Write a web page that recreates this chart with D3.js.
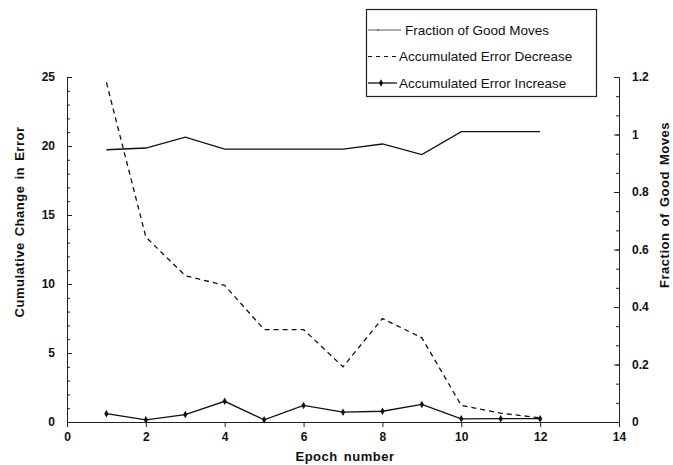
<!DOCTYPE html>
<html>
<head>
<meta charset="utf-8">
<script src="https://cdn.jsdelivr.net/npm/d3@7"></script>
<style>
  body { margin: 0; background: #fff; }
  svg { display: block; font-family: "Liberation Sans", Arial, sans-serif; }
  .axis path, .axis line { stroke: #222; }
</style>
</head>
<body>
<svg id="chart" width="673" height="465"></svg>
<script>
const epochs = [1, 2, 3, 4, 5, 6, 7, 8, 9, 10, 11, 12];
const goodMoves = [0.947, 0.953, 0.991, 0.949, 0.949, 0.949, 0.949, 0.967, 0.93, 1.01, 1.01, 1.01];
const errDecrease = [24.6, 13.4, 10.6, 9.9, 6.7, 6.7, 4.0, 7.5, 6.1, 1.2, 0.64, 0.3];
const errIncrease = [0.6, 0.16, 0.54, 1.5, 0.16, 1.2, 0.71, 0.78, 1.27, 0.23, 0.24, 0.24];
const xTicks = [0, 2, 4, 6, 8, 10, 12, 14];
const leftTicks = [0, 5, 10, 15, 20, 25];
const rightTicks = [0, 0.2, 0.4, 0.6, 0.8, 1, 1.2];
const legendLabels = ["Fraction of Good Moves", "Accumulated Error Decrease", "Accumulated Error Increase"];

const svg = d3.select("#chart");
const margins = { top: 77, right: 54, bottom: 43, left: 67 };
const width = 673, height = 465;

const x = d3.scaleLinear().domain([0, 14]).range([margins.left, width - margins.right]);
const yL = d3.scaleLinear().domain([0, 25]).range([height - margins.bottom, margins.top]);
const yR = d3.scaleLinear().domain([0, 1.2]).range([height - margins.bottom, margins.top]);

const boldLabels = g => g.selectAll("text")
  .style("font-family", "'Liberation Sans', Arial, sans-serif")
  .style("font-size", "12px")
  .style("font-weight", "bold")
  .attr("fill", "#111");

// minor ticks
svg.append("g").attr("class", "axis")
  .attr("transform", `translate(${margins.left},0)`)
  .call(d3.axisLeft(yL).tickValues(d3.range(0, 26)).tickSizeInner(-3).tickSizeOuter(0).tickFormat(""));
svg.append("g").attr("class", "axis")
  .attr("transform", `translate(${width - margins.right},0)`)
  .call(d3.axisRight(yR).tickValues(d3.range(0, 19).map(i => i * 0.2 / 3)).tickSizeInner(-3).tickSizeOuter(0).tickFormat(""));

// major axes
svg.append("g").attr("class", "axis")
  .attr("transform", `translate(${margins.left},0)`)
  .call(d3.axisLeft(yL).tickValues(leftTicks).tickSizeInner(-5).tickSizeOuter(0).tickPadding(12))
  .call(boldLabels);

svg.append("g").attr("class", "axis")
  .attr("transform", `translate(${width - margins.right},0)`)
  .call(d3.axisRight(yR).tickValues(rightTicks).tickSizeInner(-5).tickSizeOuter(0).tickPadding(13)
    .tickFormat(d => d3.format("~g")(d)))
  .call(boldLabels);

svg.append("g").attr("class", "axis")
  .attr("transform", `translate(0,${height - margins.bottom})`)
  .call(d3.axisBottom(x).tickValues(xTicks).tickSizeInner(5).tickSizeOuter(0).tickPadding(5))
  .call(boldLabels);

// axis titles
const title = sel => sel
  .attr("text-anchor", "middle")
  .attr("fill", "#111")
  .style("font-size", "13px").style("font-weight", "bold")
  .style("letter-spacing", "0.5px").style("word-spacing", "2px");

svg.append("text")
  .attr("transform", "translate(24,222) rotate(-90)")
  .call(title)
  .text("Cumulative Change in Error");

svg.append("text")
  .attr("x", 345).attr("y", 461)
  .call(title)
  .text("Epoch number");

svg.append("text")
  .attr("transform", "translate(669,205) rotate(-90)")
  .call(title)
  .text("Fraction of Good Moves");

// series
const lineL = vals => d3.line().x((d, i) => x(epochs[i])).y(d => yL(d))(vals);
const lineR = vals => d3.line().x((d, i) => x(epochs[i])).y(d => yR(d))(vals);

svg.append("path").attr("d", lineR(goodMoves))
  .attr("fill", "none").attr("stroke", "#111").attr("stroke-width", 1.3);

svg.append("path").attr("d", lineL(errDecrease))
  .attr("fill", "none").attr("stroke", "#111").attr("stroke-width", 1.3)
  .attr("stroke-dasharray", "5,4");

svg.append("path").attr("d", lineL(errIncrease))
  .attr("fill", "none").attr("stroke", "#111").attr("stroke-width", 1.3);

const diamond = d3.symbol(d3.symbolDiamond).size(16);
svg.selectAll(".marker")
  .data(errIncrease)
  .enter()
  .append("path")
  .attr("class", "marker")
  .attr("transform", (d, i) => `translate(${x(epochs[i])},${yL(d)})`)
  .attr("d", diamond)
  .attr("fill", "#111");

// legend
const legend = svg.append("g");
legend.append("rect")
  .attr("x", 366.5).attr("y", 9.5).attr("width", 230).attr("height", 87)
  .attr("fill", "#fff").attr("stroke", "#222").attr("stroke-width", 1.2);

const legendY = [30, 56.5, 83];
legend.append("line").attr("x1", 368).attr("x2", 401).attr("y1", legendY[0]).attr("y2", legendY[0])
  .attr("stroke", "#444").attr("stroke-width", 0.9);
legend.append("line").attr("x1", 378).attr("x2", 378).attr("y1", legendY[0] - 1).attr("y2", legendY[0] + 1)
  .attr("stroke", "#444").attr("stroke-width", 0.9);
legend.append("line").attr("x1", 368).attr("x2", 397).attr("y1", legendY[1]).attr("y2", legendY[1])
  .attr("stroke", "#111").attr("stroke-width", 1.1).attr("stroke-dasharray", "4,4");
legend.append("line").attr("x1", 368).attr("x2", 397).attr("y1", legendY[2]).attr("y2", legendY[2])
  .attr("stroke", "#111").attr("stroke-width", 1.3);
legend.append("path").attr("transform", `translate(381,${legendY[2]})`).attr("d", diamond).attr("fill", "#111");

legend.selectAll(".ltext")
  .data(legendLabels)
  .enter()
  .append("text")
  .attr("class", "ltext")
  .attr("x", (d, i) => i === 0 ? 405 : 399)
  .attr("y", (d, i) => legendY[i])
  .attr("dy", "0.36em")
  .style("font-size", "13.5px")
  .attr("fill", "#111")
  .text(d => d);
</script>
</body>
</html>
